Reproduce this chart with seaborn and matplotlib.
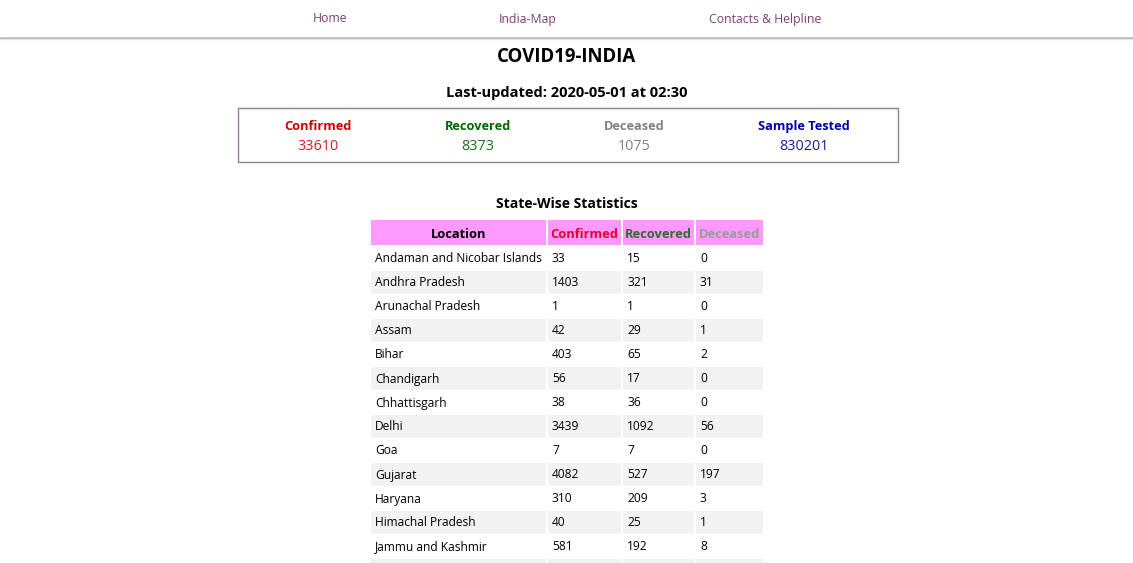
import numpy as np
import pandas as pd
import seaborn as sns
import matplotlib.pyplot as plt
from matplotlib.patches import Rectangle

sns.set_theme(style="white")
plt.rcParams['font.family'] = ['Open Sans', 'DejaVu Sans']

# page data
nav_items = ["Home", "India-Map", "Contacts & Helpline"]
title = "COVID19-INDIA"
updated = "Last-updated: 2020-05-01 at 02:30"
summary_labels = ["Confirmed", "Recovered", "Deceased", "Sample Tested"]
summary_values = [33610, 8373, 1075, 830201]

states = ["Andaman and Nicobar Islands", "Andhra Pradesh", "Arunachal Pradesh",
          "Assam", "Bihar", "Chandigarh", "Chhattisgarh", "Delhi", "Goa",
          "Gujarat", "Haryana", "Himachal Pradesh", "Jammu and Kashmir"]
confirmed = [33, 1403, 1, 42, 403, 56, 38, 3439, 7, 4082, 310, 40, 581]
recovered = [15, 321, 1, 29, 65, 17, 36, 1092, 7, 527, 209, 25, 192]
deceased = [0, 31, 0, 1, 2, 0, 0, 56, 0, 197, 3, 1, 8]

df = pd.DataFrame({'Location': states, 'Confirmed': confirmed,
                   'Recovered': recovered, 'Deceased': deceased})

W, H = 1133, 563
fig = plt.figure(figsize=(W / 100, H / 100), dpi=100)
ax = fig.add_axes([0, 0, 1, 1])
ax.set_xlim(0, W)
ax.set_ylim(H, 0)
ax.axis('off')

def px(p):
    return p * 72 / 100

# nav bar
for name, x in zip(nav_items, [330, 528, 765]):
    ax.text(x, 17.5, name, ha='center', va='center_baseline', fontsize=px(12.2), color='#7d3c7d')
ax.plot([0, W], [37.5, 37.5], color='#b4b4b4', lw=1.8)
ax.plot([0, W], [39, 39], color='#e6e6e6', lw=1)

ax.text(567, 54, title, ha='center', va='center_baseline', fontsize=px(18.6), fontweight='bold', color='black')
ax.text(567, 91, updated, ha='center', va='center_baseline', fontsize=px(14.6), fontweight='bold', color='black')

# summary box
ax.add_patch(Rectangle((237.5, 107.5), 660, 54, fill=False, ec='#9a7a9a', lw=1))
lab_colors = ['#cc0000', '#006600', '#808080', '#0000aa']
val_colors = ['#cc2020', '#1a6e1a', '#808080', '#1a1aa0']
for lab, val, x, lc, vc in zip(summary_labels, summary_values, [318, 478, 634, 804], lab_colors, val_colors):
    ax.text(x, 125, lab, ha='center', va='center_baseline', fontsize=px(12.7), fontweight='bold', color=lc)
    ax.text(x, 145, str(val), ha='center', va='center_baseline', fontsize=px(14.4), color=vc)

ax.text(567, 203, "State-Wise Statistics", ha='center', va='center_baseline', fontsize=px(14), fontweight='bold', color='black')

# table
col_left = [371, 548, 623, 696]
col_right = [546, 621, 694, 763]
cols = ['Location', 'Confirmed', 'Recovered', 'Deceased']
head_colors = ['black', '#e8002d', '#2a6e2a', '#999999']
for l, r, c, hc in zip(col_left, col_right, cols, head_colors):
    ax.add_patch(Rectangle((l, 220), r - l, 25, color='#ff99ff', lw=0))
    ax.text((l + r) / 2, 232.5, c, ha='center', va='center_baseline', fontsize=px(12.9), fontweight='bold', color=hc)

n_rows = len(df) + 1  # last striped row is cut off at the bottom of the page
for i in range(n_rows):
    yc = 258 + 24 * i
    if i % 2 == 1:
        for l, r in zip(col_left, col_right):
            ax.add_patch(Rectangle((l, yc - 11.5), r - l, 23, color='#f2f2f2', lw=0))
    if i < len(df):
        row = df.iloc[i]
        for l, c in zip(col_left, cols):
            ax.text(l + 4, yc - 0.5, str(row[c]), ha='left', va='center_baseline', fontsize=px(12), color='#000000')

fig.savefig("out.png", dpi=100)
